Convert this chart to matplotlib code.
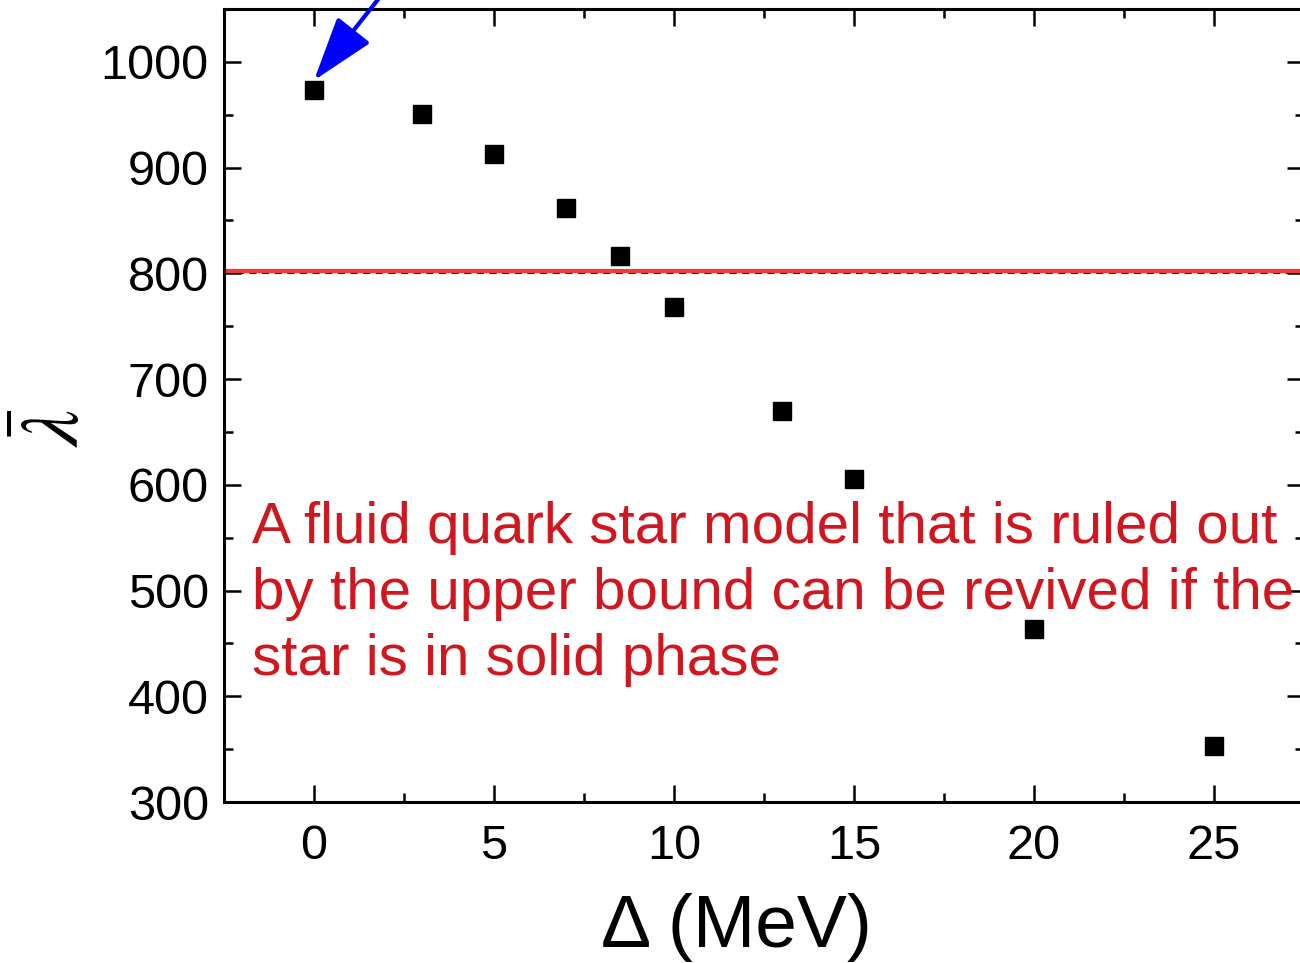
import matplotlib
matplotlib.use("Agg")
import matplotlib.pyplot as plt
from matplotlib.ticker import MultipleLocator

delta = [0, 3, 5, 7, 8.5, 10, 13, 15, 20, 25]
lam = [973.5, 951, 913, 862, 816.5, 768, 670, 605.5, 464, 353]
upper_bound = 802
dashed_level = 800
note = ("A fluid quark star model that is ruled out\n"
        "by the upper bound can be revived if the\n"
        "star is in solid phase")

plt.rcParams['font.family'] = ['Liberation Sans', 'DejaVu Sans']
plt.rcParams['mathtext.fontset'] = 'stix'

W, H = 1300, 963
fig = plt.figure(figsize=(13, 9.63), dpi=100)
ax = fig.add_axes([224 / W, 1 - 802 / H, (1304 - 224) / W, (802 - 9) / H])

ax.axhline(dashed_level, color='black', lw=1.3, ls=(0, (4, 3)), zorder=1)
ax.axhline(upper_bound, color='#ee3b3b', lw=3, zorder=2)
ax.plot(delta, lam, ls='none', marker='s', ms=13, color='black', zorder=3)

ax.set_xlim(-2.5, 27.5)
ax.set_ylim(300, 1050)
ax.xaxis.set_major_locator(MultipleLocator(5))
ax.xaxis.set_minor_locator(MultipleLocator(2.5))
ax.yaxis.set_major_locator(MultipleLocator(100))
ax.yaxis.set_minor_locator(MultipleLocator(50))
ax.tick_params(which='both', direction='in', top=True, right=True, width=1.8,
               labelsize=35)
ax.tick_params(axis='y', which='major', pad=11)
ax.tick_params(axis='x', which='major', pad=16)
ax.tick_params(which='major', length=12)
ax.tick_params(which='minor', length=6.5)
for s in ax.spines.values():
    s.set_linewidth(2.2)

ax.set_xlabel('Δ (MeV)', fontsize=54)
ax.xaxis.set_label_coords((736 - 224) / 1080, (802 - 947) / 793)
ax.xaxis.label.set_verticalalignment('baseline')
ax.set_ylabel(r'$\bar{\lambda}$', fontsize=59)
ax.yaxis.set_label_coords((96 - 224) / 1080, (802 - 428) / 793)

ax.text(0.026, (802 - 501) / 793, note, transform=ax.transAxes, color='#d0161e',
        fontsize=42, va='top', ha='left', linespacing=1.29)

ax.annotate('', xy=(0.0, 982.5), xytext=(2.21, 1077.6),
            xycoords='data', textcoords='data', annotation_clip=False,
            arrowprops=dict(arrowstyle='-|>,head_length=4.0,head_width=1.3',
                            color='#0000ff', lw=3, shrinkA=0, shrinkB=0))

fig.savefig('out.png', dpi=100)
